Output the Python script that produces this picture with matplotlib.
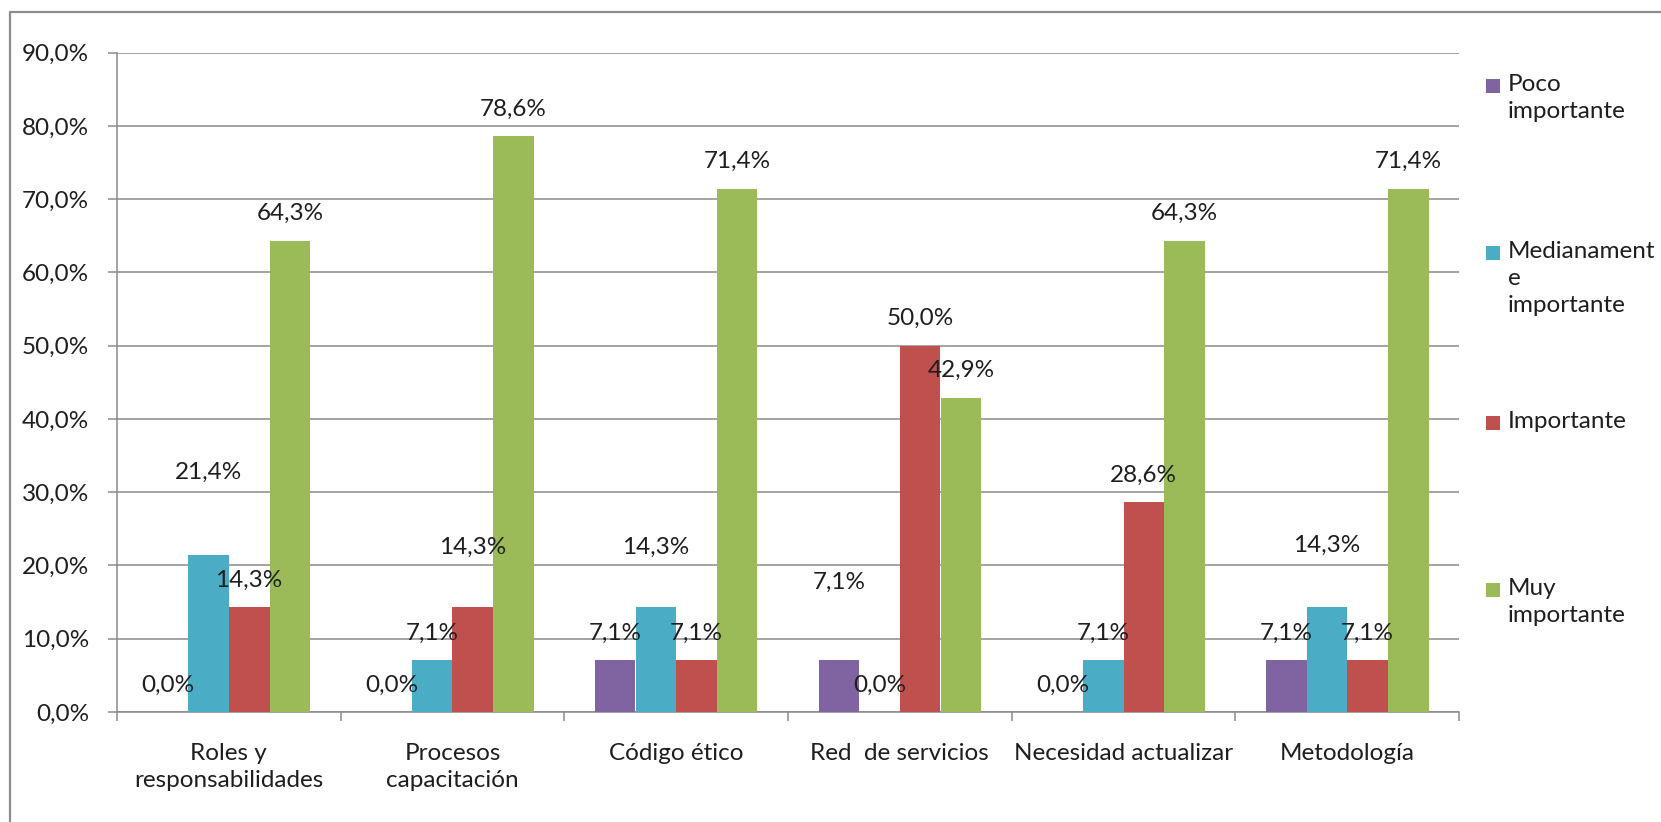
import matplotlib
matplotlib.use("Agg")
import matplotlib.pyplot as plt
from matplotlib.lines import Line2D
from matplotlib.patches import Rectangle
import numpy as np

plt.rcParams['font.family'] = ['Lato', 'DejaVu Sans']

categories = ["Roles y\nresponsabilidades", "Procesos\ncapacitación", "Código ético",
              "Red  de servicios", "Necesidad actualizar", "Metodología"]
series_names = ["Poco\nimportante", "Medianament\ne\nimportante", "Importante", "Muy\nimportante"]
poco = [0.0, 0.0, 7.1, 7.1, 0.0, 7.1]
medianamente = [21.4, 7.1, 14.3, 0.0, 7.1, 14.3]
importante = [14.3, 14.3, 7.1, 50.0, 28.6, 7.1]
muy = [64.3, 78.6, 71.4, 42.9, 64.3, 71.4]
yticks = [0, 10, 20, 30, 40, 50, 60, 70, 80, 90]

series = [poco, medianamente, importante, muy]
colors = ["#8064A2", "#4BACC6", "#C0504D", "#9BBB59"]

# manual label nudges (series index, category index) -> extra height in data units
label_shift = {(1, 0): 7.6, (2, 1): 4.5, (1, 2): 4.5, (0, 3): 6.9, (1, 5): 4.8}

W, H = 1661, 822
fig = plt.figure(figsize=(W / 100, H / 100), dpi=100)
fig.patch.set_facecolor("white")

x0, x1, y0, y1 = 117, 1459, 712, 52.6
ax = fig.add_axes([x0 / W, 1 - y0 / H, (x1 - x0) / W, (y0 - y1) / H])

grid_c = "#8a8a8a"
text_c = "#1e1e1e"
fs = 17.5

n = len(categories)
x = np.arange(n)
bw = 1 / 5.5
for i, vals in enumerate(series):
    xs = x + (i - 1.5) * bw
    ax.bar(xs, vals, width=bw, color=colors[i], edgecolor="none", zorder=3)
    for j, v in enumerate(vals):
        ly = v + 3.7 + label_shift.get((i, j), 0.0)
        ax.text(xs[j], ly, f"{v:.1f}%".replace(".", ","), ha="center", va="center",
                fontsize=fs, color=text_c, zorder=4)

ax.set_xlim(-0.5, n - 0.5)
ax.set_ylim(0, 90)
ax.set_yticks(yticks)
ax.set_yticklabels([f"{t:.1f}%".replace(".", ",") for t in yticks], fontsize=fs, color=text_c)
ax.yaxis.grid(True, color=grid_c, linewidth=1.1, zorder=0)
ax.set_axisbelow(True)

ax.set_xticks(x)
ax.set_xticklabels(categories, fontsize=fs, color=text_c, linespacing=1.35)
ax.set_xticks(np.arange(n + 1) - 0.5, minor=True)
ax.tick_params(axis="x", which="major", length=0, pad=22)
ax.tick_params(axis="x", which="minor", length=6.5, width=1.1, color=grid_c, direction="out")
ax.tick_params(axis="y", length=6.5, width=1.1, color=grid_c, direction="out", pad=13.5)

for s in ["top", "right"]:
    ax.spines[s].set_visible(False)
for s in ["left", "bottom"]:
    ax.spines[s].set_color(grid_c)
    ax.spines[s].set_linewidth(1.1)

# outer chart frame (left and top edges visible)
fig.add_artist(Line2D([10 / W, 10 / W, 1.0], [0.0, 1 - 11.7 / H, 1 - 11.7 / H],
                      transform=fig.transFigure, color="#8c8c8c", linewidth=1.6))

# legend, drawn by hand to match the spread-out layout
leg_first_line = [86, 253, 423, 590]
for i, name in enumerate(series_names):
    yc = leg_first_line[i]
    fig.add_artist(Rectangle((1486 / W, 1 - (yc + 7) / H), 14 / W, 14 / H,
                             transform=fig.transFigure, facecolor=colors[i], edgecolor="none"))
    fig.text(1508 / W, 1 - (yc - 12) / H, name, ha="left", va="top", fontsize=fs,
             color=text_c, linespacing=1.35)

fig.savefig("out.png", dpi=100, facecolor="white")
